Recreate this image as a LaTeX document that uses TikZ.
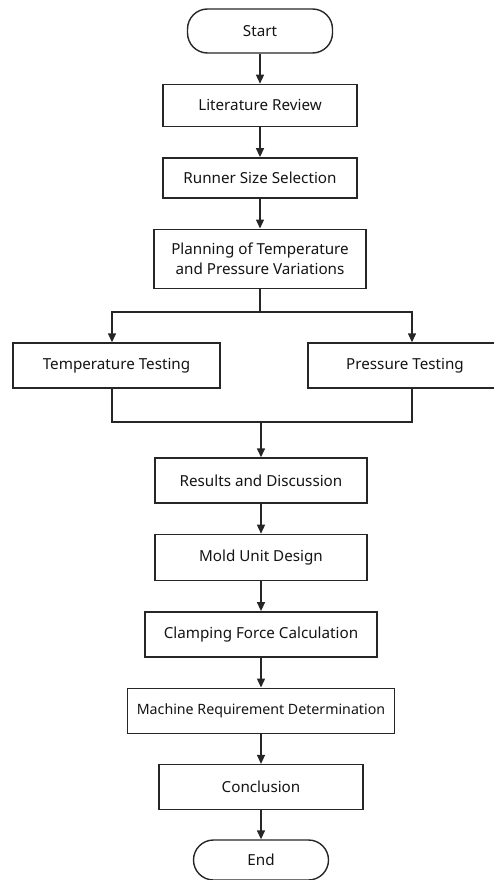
\documentclass[tikz,border=0pt]{standalone}
\usepackage{fontspec}
\setmainfont{Noto Sans}
\usetikzlibrary{arrows.meta,positioning}
\begin{document}
\begin{tikzpicture}[
  x=1pt, y=-1pt,
  proc/.style={draw=black!85, line width=1.4pt, align=center, inner sep=0pt, text=black!92, font=\fontsize{15.2}{20}\selectfont},
  term/.style={proc, rounded corners=20pt},
  arr/.style={-{Triangle[width=8pt,length=9pt]}, draw=black!85, line width=1.4pt},
  line/.style={draw=black!85, line width=1.4pt},
  node distance=30pt
]
\useasboundingbox (0,0) rectangle (494,880);
\node[term, minimum width=145pt, minimum height=44pt] (start) at (260,31) {Start};
\node[proc, minimum width=194pt, minimum height=42pt, below=of start] (lit) {Literature Review};
\node[proc, minimum width=194pt, minimum height=40pt, below=of lit] (run) {Runner Size Selection};
\node[proc, minimum width=212pt, minimum height=59pt, below=of run] (plan) {Planning of Temperature\\and Pressure Variations};
\node[proc, minimum width=207pt, minimum height=45pt] (temp) at (116.5,365.5) {Temperature Testing};
\node[proc, minimum width=194pt, minimum height=45pt] (pres) at (405,365.5) {Pressure Testing};
\node[proc, minimum width=212pt, minimum height=45pt] (res) at (261,480.5) {Results and Discussion};
\node[proc, minimum width=212pt, minimum height=46pt, below=of res] (mold) {Mold Unit Design};
\node[proc, minimum width=232pt, minimum height=45pt, below=of mold] (clamp) {Clamping Force Calculation};
\node[proc, minimum width=267pt, minimum height=45pt, below=of clamp, font=\fontsize{14.2}{20}\selectfont] (mach) {Machine Requirement Determination};
\node[proc, minimum width=204pt, minimum height=45pt, below=of mach] (concl) {Conclusion};
\node[term, minimum width=135pt, minimum height=40pt, below=29pt of concl] (end) {End};
\coordinate (split) at (260,312);
\coordinate (merge) at (261,422);
\draw[arr] (start) -- (lit);
\draw[arr] (lit) -- (run);
\draw[arr] (run) -- (plan);
\draw[line] (plan.south) -- (split);
\draw[arr] (split) -| ([xshift=-4.5pt]temp.north);
\draw[arr] (split) -| ([xshift=7pt]pres.north);
\draw[line] ([xshift=-4.5pt]temp.south) |- (merge);
\draw[line] ([xshift=7pt]pres.south) |- (merge);
\draw[arr] (merge) -- (res.north);
\draw[arr] (res) -- (mold);
\draw[arr] (mold) -- (clamp);
\draw[arr] (clamp) -- (mach);
\draw[arr] (mach) -- (concl);
\draw[arr] (concl) -- (end);
\end{tikzpicture}
\end{document}
